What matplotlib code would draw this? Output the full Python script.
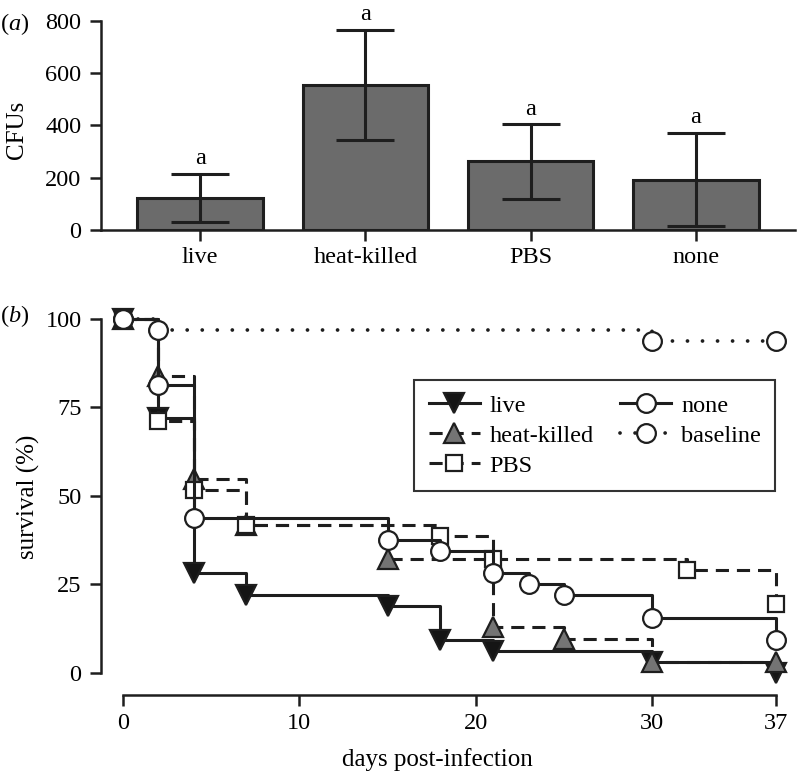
import numpy as np
import matplotlib
matplotlib.use("Agg")
import matplotlib.pyplot as plt

plt.rcParams['font.family'] = ['Liberation Serif', 'DejaVu Serif']
plt.rcParams['mathtext.fontset'] = 'custom'
plt.rcParams['mathtext.it'] = 'Liberation Serif:italic'
plt.rcParams['mathtext.rm'] = 'Liberation Serif'

# panel (a) data
groups = ['live', 'heat-killed', 'PBS', 'none']
cfu_mean = [123, 555, 262, 192]
cfu_err = [92, 210, 142, 178]
cfu_letters = ['a', 'a', 'a', 'a']

# panel (b) survival curves (days, % surviving)
live_t = [0, 2, 4, 7, 15, 18, 21, 30, 37]
live_s = [100, 71.9, 28.1, 21.9, 18.8, 9.4, 6.3, 3.1, 0]
heat_t = [0, 2, 4, 7, 15, 21, 25, 30, 37]
heat_s = [100, 83.9, 54.8, 41.9, 32.3, 12.9, 9.7, 3.2, 3.2]
pbs_t = [0, 2, 4, 7, 18, 21, 32, 37]
pbs_s = [100, 71.0, 51.6, 41.9, 38.7, 32.3, 29.0, 19.4]
none_t = [0, 2, 4, 15, 18, 21, 23, 25, 30, 37]
none_s = [100, 81.3, 43.8, 37.5, 34.4, 28.1, 25.0, 21.9, 15.6, 9.4]
base_t = [0, 2, 30, 37]
base_s = [100, 96.9, 93.8, 93.8]

W, H = 797, 773
fig = plt.figure(figsize=(W / 100, H / 100), dpi=100)
dark = '#1e1e1e'
fs = 17.5

# ---------- panel (a) ----------
ax1 = fig.add_axes([101 / W, 1 - 230 / H, 694 / W, (230 - 20.7) / H])
x = np.arange(len(groups))
ax1.bar(x, cfu_mean, width=0.76, color='#6b6b6b', edgecolor=dark, linewidth=2.2, zorder=2)
ax1.errorbar(x, cfu_mean, yerr=cfu_err, fmt='none', ecolor=dark, elinewidth=2.2,
             capsize=21, capthick=2.2, zorder=3)
for xi, m, e, lab in zip(x, cfu_mean, cfu_err, cfu_letters):
    ax1.text(xi, m + e + 18, lab, ha='center', va='bottom', fontsize=fs)
ax1.set_xlim(-0.6, 3.6)
ax1.set_ylim(0, 800)
ax1.set_yticks([0, 200, 400, 600, 800])
ax1.set_xticks(x)
ax1.set_xticklabels(groups)
for s in ['top', 'right']:
    ax1.spines[s].set_visible(False)
for s in ['left', 'bottom']:
    ax1.spines[s].set_linewidth(1.8)
    ax1.spines[s].set_color(dark)
ax1.spines['left'].set_bounds(0, 800)
ax1.tick_params(axis='both', labelsize=fs, width=1.8, length=8, color=dark)
ax1.tick_params(axis='y', pad=6)
ax1.tick_params(axis='x', pad=4)
fig.text(17 / W, 1 - 130 / H, 'CFUs', rotation=90, ha='center', va='center', fontsize=18)
fig.text(0.0, 1 - 24 / H, r'($\it{a}$)', ha='left', va='center', fontsize=fs)

# ---------- panel (b) ----------
ax2 = fig.add_axes([101 / W, 1 - 673 / H, 694 / W, (673 - 318.7) / H])
lw = 2.2
dash = (4.3, 2.6)
common = dict(drawstyle='steps-post', color=dark, lw=lw, markeredgecolor=dark,
              markeredgewidth=1.6, clip_on=False)
ax2.plot(live_t, live_s, marker='v', markersize=15, markerfacecolor='#151515',
         label='live', **common)
ax2.plot(heat_t, heat_s, marker='^', markersize=15, markerfacecolor='#747474',
         dashes=dash, label='heat-killed', **common)
ax2.plot(pbs_t, pbs_s, marker='s', markersize=11.5, markerfacecolor='white',
         dashes=dash, label='PBS', **common)
ax2.plot(none_t, none_s, marker='o', markersize=13.5, markerfacecolor='white',
         label='none', **common)
ax2.plot(base_t, base_s, marker='o', markersize=13.5, markerfacecolor='white',
         dashes=(0.01, 4.0), dash_capstyle='round', label='baseline',
         drawstyle='steps-post', color=dark, lw=2.7, markeredgecolor=dark,
         markeredgewidth=1.6, clip_on=False)

ax2.set_xlim(-22 / (652 / 37), 38.1)
ax2.set_ylim(0, 100)
ax2.set_xticks([0, 10, 20, 30, 37])
ax2.set_yticks([0, 25, 50, 75, 100])
for s in ['top', 'right']:
    ax2.spines[s].set_visible(False)
for s in ['left', 'bottom']:
    ax2.spines[s].set_linewidth(1.8)
    ax2.spines[s].set_color(dark)
ax2.spines['bottom'].set_position(('outward', 16))
ax2.spines['bottom'].set_bounds(0, 37)
ax2.spines['left'].set_bounds(0, 100)
ax2.tick_params(axis='both', labelsize=fs, width=1.8, length=8, color=dark)
ax2.tick_params(axis='y', pad=6)
ax2.tick_params(axis='x', pad=5)
fig.text(437 / W, 1 - 760 / H, 'days post-infection', ha='center', va='center', fontsize=18)
fig.text(28 / W, 1 - 497 / H, 'survival (%)', rotation=90, ha='center', va='center', fontsize=18)
fig.text(0.0, 1 - 316 / H, r'($\it{b}$)', ha='left', va='center', fontsize=fs)

leg = ax2.legend(ncol=2, loc='upper left', bbox_to_anchor=((414 - 101) / 694, (673 - 380) / 354.3),
                 fontsize=fs, frameon=True, fancybox=False, framealpha=1,
                 handlelength=2.1, handletextpad=0.4, columnspacing=1.1,
                 labelspacing=0.33, borderpad=0.6, borderaxespad=0)
leg.get_frame().set_edgecolor('#333333')
leg.get_frame().set_linewidth(1.5)

fig.savefig('out.png', dpi=100)
